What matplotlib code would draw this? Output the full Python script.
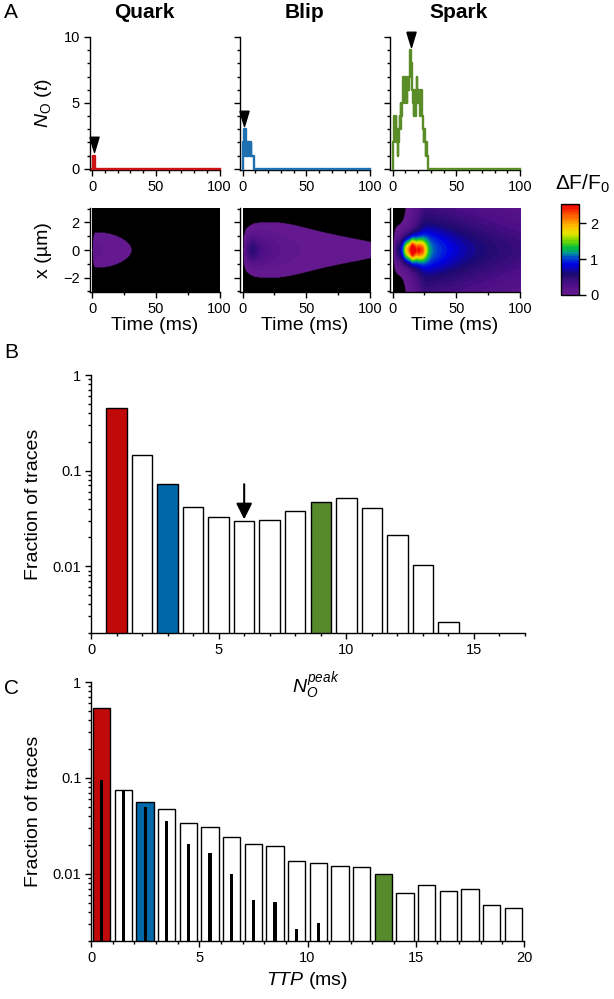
import numpy as np
import matplotlib
matplotlib.use('Agg')
import matplotlib.pyplot as plt
from matplotlib.colors import LinearSegmentedColormap, Normalize
from matplotlib.path import Path
from matplotlib.ticker import MultipleLocator, FixedLocator, LogLocator, NullFormatter

plt.rcParams['font.family'] = ['Liberation Sans', 'DejaVu Sans']
plt.rcParams['mathtext.fontset'] = 'custom'
plt.rcParams['mathtext.rm'] = 'Liberation Sans'
plt.rcParams['mathtext.it'] = 'Liberation Sans:italic'
plt.rcParams['mathtext.bf'] = 'Liberation Sans:bold'

# ---- data: open-channel traces N_O(t) (step, times in ms) ----
quark_t = [0, 0.5, 2.5, 100]
quark_n = [0, 1, 0, 0]

blip_t = [0, 0.2, 0.5, 0.9, 1.3, 1.6, 1.9, 2.3, 2.7, 3.0, 3.4, 3.7, 4.1, 4.5, 4.9, 5.2,
          5.6, 6.0, 6.4, 6.8, 9.2, 100]
blip_n = [0, 1, 2, 1, 3, 2, 3, 3, 2, 1, 2, 1, 2, 2, 1, 2, 2, 1, 2, 1, 0, 0]

spark_dt = 0.5
spark_n = [0, 2, 3, 4, 3, 4, 2, 3, 1, 2, 3, 4, 3, 5, 4, 5, 6, 7, 5, 6, 7, 6, 5, 6, 7, 6,
           7, 8, 9, 8, 7, 6, 5, 4, 6, 5, 4, 5, 7, 6, 5, 6, 5, 4, 5, 6, 4, 4, 3, 2, 3, 2,
           1, 2, 1, 0]
spark_t = list(np.arange(len(spark_n)) * spark_dt) + [100]
spark_n = spark_n + [0]

# ---- data: histogram of N_O peak ----
npeak_bins = [1, 2, 3, 4, 5, 6, 7, 8, 9, 10, 11, 12, 13, 14]
npeak_frac = [0.449, 0.144, 0.0723, 0.0416, 0.0327, 0.0300, 0.0307, 0.0375, 0.0473,
              0.0513, 0.0403, 0.0212, 0.0103, 0.0026]

# ---- data: histogram of time to peak ----
ttp_bins = [0.5, 1.5, 2.5, 3.5, 4.5, 5.5, 6.5, 7.5, 8.5, 9.5, 10.5, 11.5, 12.5, 13.5,
            14.5, 15.5, 16.5, 17.5, 18.5, 19.5]
ttp_frac = [0.537, 0.0757, 0.0568, 0.0477, 0.0341, 0.0305, 0.0244, 0.0205, 0.0195,
            0.0138, 0.0129, 0.0121, 0.0117, 0.0100, 0.0063, 0.0076, 0.0066, 0.0070,
            0.0048, 0.0044]
ttp_frac2 = [0.0946, 0.0757, 0.050, 0.0355, 0.0206, 0.0165, 0.0099, 0.0053, 0.0051,
             0.00264, 0.00308]

RED, BLUE, GREEN = '#c00a0a', '#0068a8', '#578a2a'
TRACE_C = ['#cc1414', '#1f70b0', '#5a8c28']

# fluorescence model used to build the linescans from the traces
FAST = (0.056, 14.8, 0.6, 0.011)  # gain, tau (ms), sigma0 (um), D
SLOW = (0.0045, 74.0, 0.9)        # gain, tau, sigma
HALO = (7e-7, 200.0, 2.5)         # cubic in accumulated release
CORE = (0.0042, 3.0, 0.5)         # quadratic, local
F_MAX, K_SAT = 1.6, 1.6
THRESH = 0.015
VMAX = 2.53

cmap = LinearSegmentedColormap.from_list('df', list(zip(
    [0, 0.1, 0.22, 0.33, 0.40, 0.46, 0.52, 0.60, 0.68, 0.76, 0.86, 1.0],
    ['#64198f', '#4f0f87', '#1e0a6e', '#0000e6', '#0040d2', '#009696', '#00be3c',
     '#78d700', '#e6e600', '#ffbe00', '#ff6e00', '#f00000'])), N=40)
cmap.set_bad('black')

dt = 0.25
tg = np.arange(0, 100 + dt / 2, dt)
xg = np.linspace(-3.05, 3.05, 123)


def gauss(sig):
    return np.exp(-xg[None, :] ** 2 / (2 * np.asarray(sig) ** 2))


def kernel():
    a, tau, s0, d = FAST
    s = np.sqrt(s0 ** 2 + 2 * d * tg)[:, None]
    k = a * (s0 / s) * np.exp(-tg / tau)[:, None] * gauss(s)
    a, tau, sig = SLOW
    k += a * np.exp(-tg / tau)[:, None] * gauss(sig)
    return k


KER = kernel()


def on_grid(tb, nv):
    idx = np.searchsorted(tb, tg, side='right') - 1
    return np.array(nv, dtype=float)[idx]


def leaky(n, tau):
    c = np.zeros_like(n)
    for i in range(1, len(n)):
        c[i] = c[i - 1] * np.exp(-dt / tau) + n[i] * dt
    return c


def linescan(tb, nv):
    n = on_grid(tb, nv)
    s = np.zeros((len(tg), len(xg)))
    for j in np.nonzero(n)[0]:
        s[j:] += n[j] * dt * KER[:len(tg) - j]
    a, tau, sig = HALO
    s += a * (leaky(n, tau) ** 3)[:, None] * gauss(sig)
    f = F_MAX * s / (s + K_SAT)
    a, tau, sig = CORE
    f += a * (leaky(n, tau) ** 2)[:, None] * gauss(sig)
    return np.ma.masked_less(f.T, THRESH)


W, H = 614, 999
fig = plt.figure(figsize=(W / 100, H / 100), dpi=100)


def px_axes(l, t, r, b):
    return fig.add_axes([l / W, 1 - b / H, (r - l) / W, (b - t) / H])


def ftext(x, y, s, **kw):
    fig.text(x / W, 1 - y / H, s, **kw)


def style(ax):
    ax.spines['top'].set_visible(False)
    ax.spines['right'].set_visible(False)
    for sp in ax.spines.values():
        sp.set_linewidth(1)
    ax.tick_params(which='major', direction='out', length=4, width=1, labelsize=10.5, pad=3)
    ax.tick_params(which='minor', direction='out', length=2.5, width=1)


tri = Path([(-0.3, 1), (0.3, 1), (0, 0), (-0.3, 1)])
traces = [(quark_t, quark_n), (blip_t, blip_n), (spark_t, spark_n)]
lefts = [89.5, 240, 390]
titles = ['Quark', 'Blip', 'Spark']
title_x = [144, 305, 459]

for i, (tb, nv) in enumerate(traces):
    L = lefts[i]
    ax = px_axes(L, 37, L + 130, 170)
    ax.step(tb, nv, where='post', color=TRACE_C[i], lw=1.7, clip_on=False, zorder=3)
    k = int(np.argmax(nv))
    tp = 0.5 * (tb[k] + tb[k + 1])
    ax.plot([tp], [nv[k] + 0.25], marker=tri, markersize=22, color='k', clip_on=False,
            zorder=4)
    ax.set_xlim(-2, 100)
    ax.set_ylim(-0.1, 10)
    ax.xaxis.set_major_locator(FixedLocator([0, 50, 100]))
    ax.xaxis.set_minor_locator(MultipleLocator(10))
    ax.yaxis.set_major_locator(FixedLocator([0, 5, 10]))
    ax.yaxis.set_minor_locator(MultipleLocator(1))
    style(ax)
    if i > 0:
        ax.set_yticklabels([])
    ftext(title_x[i], 13, titles[i], ha='center', va='center', fontsize=15,
          fontweight='bold')

    hx = px_axes(L, 208, L + 130, 292)
    hx.imshow(linescan(tb, nv), extent=[0, 100, -3.05, 3.05], origin='lower',
              aspect='auto', cmap=cmap, vmin=0, vmax=VMAX, interpolation='bilinear')
    hx.set_xlim(-2, 100)
    hx.set_ylim(-3.05, 3.05)
    hx.xaxis.set_major_locator(FixedLocator([0, 50, 100]))
    hx.xaxis.set_minor_locator(MultipleLocator(25))
    hx.yaxis.set_major_locator(FixedLocator([-2, 0, 2]))
    hx.yaxis.set_minor_locator(MultipleLocator(1))
    style(hx)
    if i > 0:
        hx.set_yticklabels([])
    hx.set_xlabel('Time (ms)', fontsize=14, labelpad=1)

ftext(44, 103, r'$N_{\mathrm{O}}$ ($t$)', rotation=90, ha='center', va='center', fontsize=14)
ftext(44, 250, 'x (\u00b5m)', rotation=90, ha='center', va='center', fontsize=14)

cax = px_axes(561, 204, 579, 295)
cb = fig.colorbar(plt.cm.ScalarMappable(norm=Normalize(0, VMAX), cmap=cmap), cax=cax)
cb.set_ticks([0, 1, 2])
cb.outline.set_linewidth(1)
cax.tick_params(direction='out', length=5, width=1, labelsize=10.5, pad=3)
ftext(583, 184, r'$\Delta$F/F$_0$', ha='center', va='center', fontsize=15)

# ---- panel B ----
bx = px_axes(91, 375, 525, 633)
bcol = ['white'] * len(npeak_bins)
bcol[0], bcol[2], bcol[8] = RED, BLUE, GREEN
bx.bar(npeak_bins, npeak_frac, width=0.8, color=bcol, edgecolor='k', lw=1)
bx.set_yscale('log')
bx.set_xlim(0, 17)
bx.set_ylim(0.002, 1)
bx.xaxis.set_major_locator(FixedLocator([0, 5, 10, 15]))
bx.xaxis.set_minor_locator(MultipleLocator(1))
bx.yaxis.set_major_locator(FixedLocator([0.01, 0.1, 1]))
bx.yaxis.set_minor_locator(LogLocator(base=10, subs=np.arange(2, 10)))
bx.yaxis.set_minor_formatter(NullFormatter())
bx.set_yticklabels(['0.01', '0.1', '1'])
style(bx)
bx.annotate('', xy=(6, npeak_frac[5] * 1.03), xytext=(6, 0.072),
            arrowprops=dict(arrowstyle='-|>', color='k', lw=1.5, mutation_scale=24,
                            shrinkA=0, shrinkB=0))
bx.set_ylabel('Fraction of traces', fontsize=14, labelpad=8)

# ---- panel C ----
cx = px_axes(91, 682, 524, 941)
ccol = ['white'] * len(ttp_bins)
ccol[0], ccol[2], ccol[13] = RED, BLUE, GREEN
cx.bar(ttp_bins, ttp_frac, width=0.8, color=ccol, edgecolor='k', lw=1)
cx.bar(ttp_bins[:len(ttp_frac2)], ttp_frac2, width=0.15, color='k', lw=0)
cx.set_yscale('log')
cx.set_xlim(0, 20)
cx.set_ylim(0.002, 1)
cx.xaxis.set_major_locator(FixedLocator([0, 5, 10, 15, 20]))
cx.xaxis.set_minor_locator(MultipleLocator(1))
cx.yaxis.set_major_locator(FixedLocator([0.01, 0.1, 1]))
cx.yaxis.set_minor_locator(LogLocator(base=10, subs=np.arange(2, 10)))
cx.yaxis.set_minor_formatter(NullFormatter())
cx.set_yticklabels(['0.01', '0.1', '1'])
style(cx)
cx.set_xlabel(r'$TTP$ (ms)', fontsize=14, labelpad=4)
cx.set_ylabel('Fraction of traces', fontsize=14, labelpad=8)

# B x-label sits on top of panel C's upper region
ftext(316, 686, r'$N_O^{peak}$', ha='center', va='center', fontsize=14, zorder=10)

ftext(4, 12, 'A', fontsize=15, va='center', ha='left')
ftext(4, 352, 'B', fontsize=15, va='center', ha='left')
ftext(4, 688, 'C', fontsize=15, va='center', ha='left')

fig.savefig('out.png', dpi=100)
